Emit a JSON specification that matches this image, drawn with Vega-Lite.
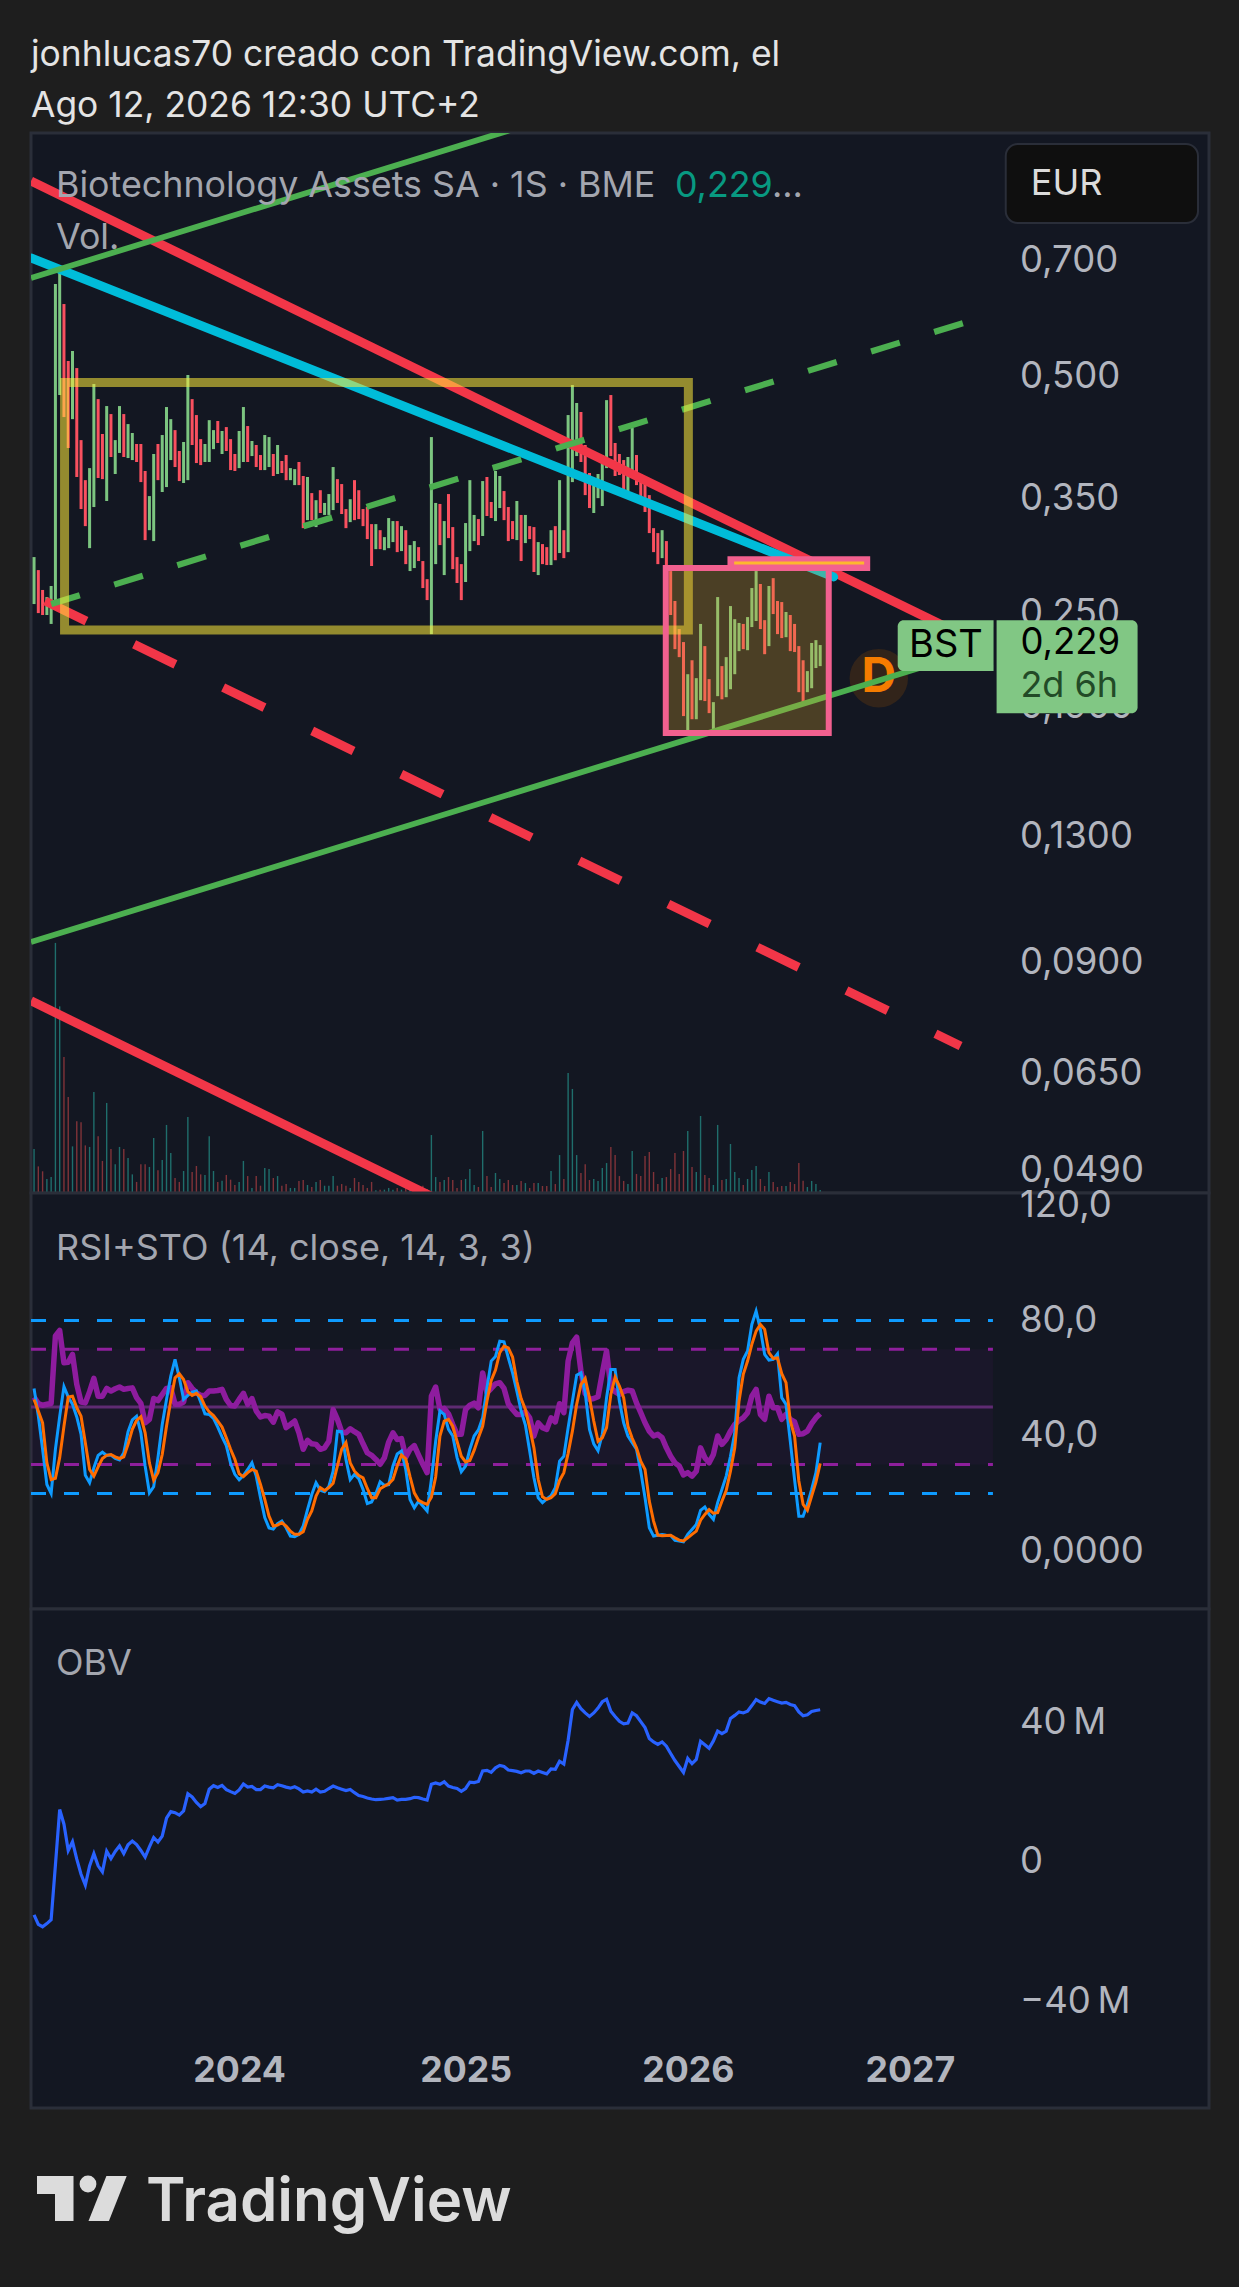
{
"$schema":"https://vega.github.io/schema/vega-lite/v6.json",
"background":"#1e1e1e",
"padding":{"left":26,"right":31,"top":38,"bottom":0},
"title":{"text":["jonhlucas70 creado con TradingView.com, el","Ago 12, 2026 12:30 UTC+2"],"anchor":"start","frame":"group","font":"Inter","fontSize":35.4,"fontWeight":"normal","color":"#e4e4e4","lineHeight":51,"offset":7},
"config":{
"view":{"fill":"#131722","stroke":"#2a2e39","strokeWidth":3},
"axis":{"labelFont":"Inter","labelFontSize":36.5,"labelColor":"#b2b5be","ticks":false,"tickSize":0,"domain":false,"grid":false,"title":null,"labelOverlap":false,"labelBound":false,"labelFlush":false},
"text":{"font":"Inter","align":"left","baseline":"middle"}
},
"datasets":{
"weekly":[
{"date":"2023-01-30","hi":0.2945,"lo":0.2567,"dir":"up","vol":3.14,"rsi":53.4,"k":56.4,"d":52.6,"obv":-15.1},
{"date":"2023-02-06","hi":0.2835,"lo":0.25,"dir":"dn","vol":1.9,"rsi":51.2,"k":46.8,"d":48.6,"obv":-17.8},
{"date":"2023-02-13","hi":0.2675,"lo":0.2486,"dir":"dn","vol":1.55,"rsi":50.6,"k":35.3,"d":44.5,"obv":-18.5},
{"date":"2023-02-20","hi":0.262,"lo":0.2486,"dir":"up","vol":1,"rsi":50.9,"k":23.1,"d":30.6,"obv":-17.6},
{"date":"2023-02-27","hi":0.2706,"lo":0.2422,"dir":"up","vol":1.14,"rsi":51.2,"k":20,"d":24.8,"obv":-16.5},
{"date":"2023-03-06","hi":0.6544,"lo":0.2575,"dir":"up","vol":17.86,"rsi":74.6,"k":35.3,"d":25.2,"obv":-0.9},
{"date":"2023-03-13","hi":0.6798,"lo":0.473,"dir":"up","vol":13.33,"rsi":76.5,"k":46.7,"d":32.4,"obv":15},
{"date":"2023-03-20","hi":0.6172,"lo":0.4435,"dir":"dn","vol":9.71,"rsi":65.3,"k":57,"d":43.3,"obv":10.8},
{"date":"2023-03-27","hi":0.5225,"lo":0.4051,"dir":"dn","vol":6.86,"rsi":65.5,"k":53.4,"d":53.4,"obv":3.3},
{"date":"2023-04-03","hi":0.538,"lo":0.4408,"dir":"up","vol":3.33,"rsi":68.2,"k":50.9,"d":53.7,"obv":5.8},
{"date":"2023-04-10","hi":0.5118,"lo":0.3722,"dir":"dn","vol":5.12,"rsi":57.8,"k":46.5,"d":49.7,"obv":0.8},
{"date":"2023-04-17","hi":0.4146,"lo":0.3389,"dir":"dn","vol":5.05,"rsi":51.7,"k":40.5,"d":46.8,"obv":-3.5},
{"date":"2023-04-24","hi":0.3688,"lo":0.3224,"dir":"dn","vol":3.4,"rsi":51.4,"k":26.3,"d":37.6,"obv":-6.6},
{"date":"2023-05-01","hi":0.382,"lo":0.3023,"dir":"up","vol":3.29,"rsi":55.3,"k":23.7,"d":28.3,"obv":-1.1},
{"date":"2023-05-08","hi":0.4885,"lo":0.3409,"dir":"up","vol":7.21,"rsi":59.9,"k":28.9,"d":26,"obv":2.4},
{"date":"2023-05-15","hi":0.4674,"lo":0.3711,"dir":"dn","vol":4.05,"rsi":53.7,"k":33.2,"d":29.2,"obv":-1.1},
{"date":"2023-05-22","hi":0.4221,"lo":0.3699,"dir":"dn","vol":2.29,"rsi":53.7,"k":34.3,"d":32.1,"obv":-2.8},
{"date":"2023-05-29","hi":0.458,"lo":0.347,"dir":"up","vol":6.43,"rsi":56.4,"k":33.2,"d":33.2,"obv":3.1},
{"date":"2023-06-05","hi":0.4474,"lo":0.3946,"dir":"dn","vol":3.14,"rsi":55.5,"k":33.3,"d":33.5,"obv":1},
{"date":"2023-06-12","hi":0.4146,"lo":0.3755,"dir":"up","vol":2.05,"rsi":56.3,"k":32.1,"d":32.7,"obv":3},
{"date":"2023-06-19","hi":0.458,"lo":0.3993,"dir":"up","vol":3.29,"rsi":56.9,"k":31.6,"d":32.1,"obv":4.6},
{"date":"2023-06-26","hi":0.4474,"lo":0.3946,"dir":"dn","vol":3.14,"rsi":56.1,"k":34.1,"d":32.7,"obv":2.4},
{"date":"2023-07-03","hi":0.4345,"lo":0.3934,"dir":"up","vol":2.5,"rsi":56.4,"k":41.4,"d":37,"obv":4.9},
{"date":"2023-07-10","hi":0.4233,"lo":0.3911,"dir":"up","vol":1.33,"rsi":56.6,"k":45.5,"d":42.2,"obv":6},
{"date":"2023-07-17","hi":0.4099,"lo":0.3889,"dir":"dn","vol":0.79,"rsi":53.2,"k":46.8,"d":45.3,"obv":5},
{"date":"2023-07-24","hi":0.4099,"lo":0.3667,"dir":"dn","vol":2.05,"rsi":51.2,"k":41,"d":46.6,"obv":3.3},
{"date":"2023-07-31","hi":0.3788,"lo":0.3095,"dir":"dn","vol":2.05,"rsi":44.5,"k":29.5,"d":41,"obv":1.4},
{"date":"2023-08-07","hi":0.352,"lo":0.3186,"dir":"up","vol":1.86,"rsi":45.7,"k":20.2,"d":30.6,"obv":4.3},
{"date":"2023-08-14","hi":0.3981,"lo":0.3086,"dir":"up","vol":3.93,"rsi":52.9,"k":22.3,"d":24.6,"obv":7},
{"date":"2023-08-21","hi":0.4099,"lo":0.3688,"dir":"dn","vol":1.62,"rsi":52.2,"k":32.4,"d":27.2,"obv":5.7},
{"date":"2023-08-28","hi":0.4208,"lo":0.3562,"dir":"up","vol":2.36,"rsi":54.3,"k":43.9,"d":33.5,"obv":7.4},
{"date":"2023-09-04","hi":0.4567,"lo":0.3614,"dir":"up","vol":4.86,"rsi":56.4,"k":52.6,"d":43.3,"obv":12.5},
{"date":"2023-09-11","hi":0.4408,"lo":0.3911,"dir":"up","vol":2.86,"rsi":56.6,"k":60.7,"d":52.2,"obv":14.4},
{"date":"2023-09-18","hi":0.4269,"lo":0.3832,"dir":"dn","vol":1.07,"rsi":50.9,"k":66.5,"d":60.1,"obv":14.1},
{"date":"2023-09-25","hi":0.4016,"lo":0.3678,"dir":"dn","vol":0.79,"rsi":50.9,"k":60.1,"d":61.5,"obv":13.4},
{"date":"2023-10-02","hi":0.4123,"lo":0.3657,"dir":"up","vol":1.57,"rsi":51.7,"k":52.6,"d":59.5,"obv":14.6},
{"date":"2023-10-09","hi":0.5015,"lo":0.3688,"dir":"up","vol":5.43,"rsi":58.4,"k":54,"d":55.3,"obv":19.5},
{"date":"2023-10-16","hi":0.4674,"lo":0.4087,"dir":"dn","vol":1.5,"rsi":56.4,"k":55.1,"d":54,"obv":18.6},
{"date":"2023-10-23","hi":0.4461,"lo":0.3877,"dir":"dn","vol":1.93,"rsi":54.9,"k":55.5,"d":54.7,"obv":17},
{"date":"2023-10-30","hi":0.4158,"lo":0.3854,"dir":"dn","vol":1.33,"rsi":54,"k":51.7,"d":53.5,"obv":15.8},
{"date":"2023-11-06","hi":0.4099,"lo":0.3889,"dir":"up","vol":1.29,"rsi":54,"k":47.6,"d":50.3,"obv":16.7},
{"date":"2023-11-13","hi":0.4395,"lo":0.3889,"dir":"up","vol":4.05,"rsi":55.5,"k":47.4,"d":48.3,"obv":20.8},
{"date":"2023-11-20","hi":0.4269,"lo":0.4038,"dir":"up","vol":1.57,"rsi":55.5,"k":46,"d":47,"obv":21.8},
{"date":"2023-11-27","hi":0.4384,"lo":0.4111,"dir":"dn","vol":0.79,"rsi":55.7,"k":43,"d":45.1,"obv":21.3},
{"date":"2023-12-04","hi":0.4258,"lo":0.3981,"dir":"up","vol":0.88,"rsi":56.1,"k":39.6,"d":43,"obv":21.9},
{"date":"2023-12-11","hi":0.4307,"lo":0.4016,"dir":"dn","vol":1.29,"rsi":52.6,"k":36.6,"d":39.3,"obv":20.7},
{"date":"2023-12-18","hi":0.4158,"lo":0.3798,"dir":"dn","vol":0.95,"rsi":50.5,"k":30.4,"d":35.3,"obv":20.1},
{"date":"2023-12-25","hi":0.3981,"lo":0.3788,"dir":"dn","vol":0.57,"rsi":50.3,"k":26.6,"d":31.8,"obv":19.6},
{"date":"2024-01-01","hi":0.4258,"lo":0.382,"dir":"up","vol":0.79,"rsi":52.6,"k":24.7,"d":26.8,"obv":20.6},
{"date":"2024-01-08","hi":0.4567,"lo":0.3889,"dir":"up","vol":2.29,"rsi":54.7,"k":26.2,"d":25.8,"obv":22.3},
{"date":"2024-01-15","hi":0.432,"lo":0.3889,"dir":"dn","vol":1.21,"rsi":50.9,"k":28.3,"d":27.2,"obv":21.4},
{"date":"2024-01-22","hi":0.4135,"lo":0.3957,"dir":"up","vol":0.36,"rsi":52.9,"k":30.6,"d":28.3,"obv":21.6},
{"date":"2024-01-29","hi":0.4087,"lo":0.3832,"dir":"dn","vol":1.21,"rsi":48.6,"k":26,"d":27.7,"obv":20.7},
{"date":"2024-02-05","hi":0.3969,"lo":0.3798,"dir":"dn","vol":0.52,"rsi":46.5,"k":18.5,"d":23.1,"obv":20.7},
{"date":"2024-02-12","hi":0.4208,"lo":0.3798,"dir":"up","vol":1.79,"rsi":47,"k":11.6,"d":17.9,"obv":21.7},
{"date":"2024-02-19","hi":0.4183,"lo":0.3832,"dir":"up","vol":1.71,"rsi":46.8,"k":8,"d":12.1,"obv":21.4},
{"date":"2024-02-26","hi":0.3981,"lo":0.3733,"dir":"dn","vol":1.07,"rsi":44.7,"k":7.6,"d":8.7,"obv":21.2},
{"date":"2024-03-04","hi":0.4087,"lo":0.3755,"dir":"up","vol":1.21,"rsi":48.3,"k":9.5,"d":9,"obv":22.1},
{"date":"2024-03-11","hi":0.39,"lo":0.3766,"dir":"dn","vol":0.52,"rsi":47.5,"k":10.4,"d":9.8,"obv":21.8},
{"date":"2024-03-18","hi":0.3969,"lo":0.3688,"dir":"dn","vol":0.64,"rsi":42.8,"k":8.1,"d":8.7,"obv":21.4},
{"date":"2024-03-25","hi":0.382,"lo":0.3688,"dir":"up","vol":0.36,"rsi":43.9,"k":5.2,"d":6.9,"obv":21.1},
{"date":"2024-04-01","hi":0.3809,"lo":0.3635,"dir":"up","vol":0.36,"rsi":45.1,"k":5,"d":5.8,"obv":21.5},
{"date":"2024-04-08","hi":0.3889,"lo":0.3635,"dir":"dn","vol":0.86,"rsi":41,"k":5.8,"d":5.8,"obv":20.9},
{"date":"2024-04-15","hi":0.3733,"lo":0.3205,"dir":"dn","vol":0.93,"rsi":35.3,"k":8.7,"d":6.7,"obv":20},
{"date":"2024-04-22","hi":0.3722,"lo":0.3281,"dir":"up","vol":0.57,"rsi":38.4,"k":14.4,"d":11,"obv":20.3},
{"date":"2024-04-29","hi":0.3551,"lo":0.3281,"dir":"dn","vol":0.43,"rsi":37.2,"k":19.6,"d":13.9,"obv":20},
{"date":"2024-05-06","hi":0.3478,"lo":0.3215,"dir":"up","vol":0.79,"rsi":37,"k":23.7,"d":19.1,"obv":20.8},
{"date":"2024-05-13","hi":0.3581,"lo":0.335,"dir":"dn","vol":0.93,"rsi":35.3,"k":21.1,"d":22,"obv":20},
{"date":"2024-05-20","hi":0.345,"lo":0.3331,"dir":"up","vol":0.52,"rsi":35.8,"k":20.6,"d":21,"obv":20.2},
{"date":"2024-05-27","hi":0.3541,"lo":0.3331,"dir":"up","vol":0.52,"rsi":38.1,"k":22.4,"d":22,"obv":21},
{"date":"2024-06-03","hi":0.3832,"lo":0.3379,"dir":"up","vol":1.21,"rsi":49.1,"k":27.7,"d":23.5,"obv":21.7},
{"date":"2024-06-10","hi":0.3699,"lo":0.345,"dir":"dn","vol":0.52,"rsi":45.7,"k":41.6,"d":29.5,"obv":21.2},
{"date":"2024-06-17","hi":0.3646,"lo":0.334,"dir":"dn","vol":0.64,"rsi":41.3,"k":41.4,"d":35.3,"obv":20.8},
{"date":"2024-06-24","hi":0.3389,"lo":0.3205,"dir":"dn","vol":0.52,"rsi":41,"k":31.8,"d":37.6,"obv":20.4},
{"date":"2024-07-01","hi":0.3488,"lo":0.3262,"dir":"up","vol":0.36,"rsi":42.4,"k":24.8,"d":30.6,"obv":20.7},
{"date":"2024-07-08","hi":0.3688,"lo":0.3281,"dir":"dn","vol":1.07,"rsi":41.4,"k":26.6,"d":27.7,"obv":19.8},
{"date":"2024-07-15","hi":0.3581,"lo":0.3291,"dir":"dn","vol":0.79,"rsi":40.5,"k":25.1,"d":26.2,"obv":19},
{"date":"2024-07-22","hi":0.3389,"lo":0.3224,"dir":"dn","vol":0.57,"rsi":37.2,"k":21.4,"d":25.4,"obv":18.7},
{"date":"2024-07-29","hi":0.3409,"lo":0.3104,"dir":"dn","vol":0.36,"rsi":34.1,"k":16.5,"d":21.7,"obv":18.3},
{"date":"2024-08-05","hi":0.3243,"lo":0.2869,"dir":"dn","vol":0.79,"rsi":33.2,"k":17,"d":18.5,"obv":18},
{"date":"2024-08-12","hi":0.3243,"lo":0.3014,"dir":"up","vol":0.19,"rsi":31.8,"k":19.9,"d":18.5,"obv":17.8},
{"date":"2024-08-19","hi":0.3186,"lo":0.3014,"dir":"dn","vol":0.24,"rsi":30.1,"k":24,"d":21.6,"obv":17.9},
{"date":"2024-08-26","hi":0.3122,"lo":0.3005,"dir":"up","vol":0.24,"rsi":32.4,"k":22.8,"d":22.5,"obv":18},
{"date":"2024-09-02","hi":0.3301,"lo":0.3023,"dir":"up","vol":0.36,"rsi":37.8,"k":23,"d":23.3,"obv":18.2},
{"date":"2024-09-09","hi":0.3272,"lo":0.3077,"dir":"up","vol":0.24,"rsi":41,"k":29.5,"d":24.8,"obv":18.4},
{"date":"2024-09-16","hi":0.3272,"lo":0.2988,"dir":"dn","vol":0.36,"rsi":38.7,"k":33.7,"d":29.5,"obv":17.7},
{"date":"2024-09-23","hi":0.3224,"lo":0.2997,"dir":"up","vol":0.24,"rsi":39,"k":34.7,"d":33.3,"obv":17.9},
{"date":"2024-09-30","hi":0.3186,"lo":0.2885,"dir":"dn","vol":0.36,"rsi":32.6,"k":28.3,"d":32,"obv":17.9},
{"date":"2024-10-07","hi":0.305,"lo":0.2827,"dir":"up","vol":0.24,"rsi":35.3,"k":17.9,"d":25.8,"obv":18.1},
{"date":"2024-10-14","hi":0.3086,"lo":0.2852,"dir":"up","vol":0.36,"rsi":36.6,"k":15,"d":20.2,"obv":18.5},
{"date":"2024-10-21","hi":0.3032,"lo":0.2911,"dir":"dn","vol":0.29,"rsi":33.3,"k":17.3,"d":17.6,"obv":18.4},
{"date":"2024-10-28","hi":0.2911,"lo":0.269,"dir":"dn","vol":0.52,"rsi":30.1,"k":15.6,"d":16.8,"obv":18},
{"date":"2024-11-04","hi":0.2761,"lo":0.2597,"dir":"dn","vol":0.29,"rsi":27.2,"k":13.9,"d":16.2,"obv":17.7},
{"date":"2024-11-11","hi":0.4183,"lo":0.2351,"dir":"up","vol":4.14,"rsi":53.7,"k":24.8,"d":18.7,"obv":22.2},
{"date":"2024-11-18","hi":0.345,"lo":0.2885,"dir":"up","vol":1.14,"rsi":56.9,"k":38.1,"d":25.7,"obv":22.6},
{"date":"2024-11-25","hi":0.344,"lo":0.305,"dir":"dn","vol":0.79,"rsi":49.2,"k":48.6,"d":39.9,"obv":22.2},
{"date":"2024-12-02","hi":0.3272,"lo":0.2794,"dir":"up","vol":0.93,"rsi":49.5,"k":47.4,"d":45.1,"obv":22.9},
{"date":"2024-12-09","hi":0.3541,"lo":0.3113,"dir":"dn","vol":1.14,"rsi":47.6,"k":42.2,"d":45.7,"obv":21.7},
{"date":"2024-12-16","hi":0.3215,"lo":0.2843,"dir":"dn","vol":0.93,"rsi":43.9,"k":39.9,"d":43.3,"obv":21.3},
{"date":"2024-12-23","hi":0.2945,"lo":0.273,"dir":"dn","vol":0.36,"rsi":40.5,"k":32.4,"d":38.1,"obv":21},
{"date":"2024-12-30","hi":0.2885,"lo":0.2597,"dir":"dn","vol":0.93,"rsi":40.5,"k":27.5,"d":32.9,"obv":20.2},
{"date":"2025-01-06","hi":0.3253,"lo":0.2738,"dir":"up","vol":1,"rsi":49.1,"k":29.5,"d":30.9,"obv":21},
{"date":"2025-01-13","hi":0.3688,"lo":0.2997,"dir":"up","vol":1.71,"rsi":50.6,"k":35.3,"d":31.4,"obv":22.8},
{"date":"2025-01-20","hi":0.3331,"lo":0.3086,"dir":"up","vol":0.57,"rsi":51.3,"k":39.9,"d":34.9,"obv":22.7},
{"date":"2025-01-27","hi":0.3291,"lo":0.305,"dir":"dn","vol":0.43,"rsi":49.7,"k":42,"d":39.3,"obv":23},
{"date":"2025-02-03","hi":0.3678,"lo":0.3132,"dir":"up","vol":4.43,"rsi":61.8,"k":46.2,"d":43.3,"obv":26},
{"date":"2025-02-10","hi":0.3722,"lo":0.3321,"dir":"dn","vol":1.21,"rsi":54.9,"k":56.6,"d":52,"obv":26.2},
{"date":"2025-02-17","hi":0.346,"lo":0.3301,"dir":"dn","vol":0.43,"rsi":56.4,"k":65.9,"d":59.2,"obv":25.6},
{"date":"2025-02-24","hi":0.3788,"lo":0.3272,"dir":"up","vol":1.43,"rsi":58,"k":67.5,"d":62.8,"obv":26.9},
{"date":"2025-03-03","hi":0.3733,"lo":0.3399,"dir":"up","vol":1,"rsi":58.4,"k":72.8,"d":68.8,"obv":27.6},
{"date":"2025-03-10","hi":0.3572,"lo":0.3281,"dir":"dn","vol":0.71,"rsi":56.4,"k":72.6,"d":71.1,"obv":27.3},
{"date":"2025-03-17","hi":0.3409,"lo":0.3086,"dir":"dn","vol":0.93,"rsi":51.1,"k":67,"d":70.5,"obv":26.3},
{"date":"2025-03-24","hi":0.3272,"lo":0.3104,"dir":"dn","vol":0.57,"rsi":49.1,"k":61.8,"d":67.3,"obv":26.1},
{"date":"2025-03-31","hi":0.347,"lo":0.3095,"dir":"up","vol":0.57,"rsi":47.4,"k":55.5,"d":58.9,"obv":25.9},
{"date":"2025-04-07","hi":0.3331,"lo":0.2911,"dir":"dn","vol":0.86,"rsi":47.4,"k":48.6,"d":52.9,"obv":25.5},
{"date":"2025-04-14","hi":0.3331,"lo":0.3068,"dir":"up","vol":0.71,"rsi":48.3,"k":43.7,"d":49.1,"obv":26},
{"date":"2025-04-21","hi":0.3224,"lo":0.3104,"dir":"dn","vol":0.36,"rsi":46.2,"k":34.7,"d":42.8,"obv":26},
{"date":"2025-04-28","hi":0.3215,"lo":0.2819,"dir":"dn","vol":0.71,"rsi":39.9,"k":25.4,"d":35.8,"obv":25.3},
{"date":"2025-05-05","hi":0.3077,"lo":0.2794,"dir":"up","vol":0.71,"rsi":44.5,"k":18.5,"d":24.8,"obv":26},
{"date":"2025-05-12","hi":0.3059,"lo":0.2885,"dir":"dn","vol":0.5,"rsi":42.8,"k":16.8,"d":18.8,"obv":25.6},
{"date":"2025-05-19","hi":0.3032,"lo":0.2877,"dir":"dn","vol":0.5,"rsi":42.2,"k":18.1,"d":17.9,"obv":25.2},
{"date":"2025-05-26","hi":0.3186,"lo":0.2877,"dir":"up","vol":1.57,"rsi":46.2,"k":19.2,"d":18.5,"obv":26.6},
{"date":"2025-06-02","hi":0.3224,"lo":0.2918,"dir":"dn","vol":0.64,"rsi":44.8,"k":22,"d":19.9,"obv":26.5},
{"date":"2025-06-09","hi":0.3688,"lo":0.298,"dir":"up","vol":2.71,"rsi":51.1,"k":31.2,"d":24.5,"obv":28.8},
{"date":"2025-06-16","hi":0.3186,"lo":0.2936,"dir":"dn","vol":1,"rsi":48,"k":32.9,"d":27.2,"obv":28},
{"date":"2025-06-23","hi":0.4461,"lo":0.2988,"dir":"up","vol":8.57,"rsi":65.9,"k":42.8,"d":33.9,"obv":34.8},
{"date":"2025-06-30","hi":0.487,"lo":0.3667,"dir":"up","vol":7.43,"rsi":72.2,"k":52,"d":41.6,"obv":43.6},
{"date":"2025-07-07","hi":0.4621,"lo":0.3957,"dir":"up","vol":2.71,"rsi":74.2,"k":61,"d":50.9,"obv":45.6},
{"date":"2025-07-14","hi":0.4501,"lo":0.3889,"dir":"dn","vol":1.43,"rsi":62.4,"k":61.8,"d":57.8,"obv":43.8},
{"date":"2025-07-21","hi":0.4087,"lo":0.353,"dir":"dn","vol":2.05,"rsi":54.6,"k":54.9,"d":59.9,"obv":42.6},
{"date":"2025-07-28","hi":0.3766,"lo":0.3399,"dir":"dn","vol":0.93,"rsi":52.6,"k":42.2,"d":53.2,"obv":41.6},
{"date":"2025-08-04","hi":0.3688,"lo":0.335,"dir":"up","vol":1,"rsi":52.9,"k":37.2,"d":45.1,"obv":42.6},
{"date":"2025-08-11","hi":0.3755,"lo":0.3499,"dir":"up","vol":0.86,"rsi":53.5,"k":34.8,"d":38.1,"obv":44},
{"date":"2025-08-18","hi":0.3969,"lo":0.3419,"dir":"up","vol":1.79,"rsi":61.8,"k":40.5,"d":39.3,"obv":45.8},
{"date":"2025-08-25","hi":0.466,"lo":0.382,"dir":"up","vol":2.14,"rsi":69.4,"k":53.2,"d":42.8,"obv":46.5},
{"date":"2025-09-01","hi":0.473,"lo":0.3957,"dir":"dn","vol":3.29,"rsi":56.6,"k":63,"d":54.3,"obv":43.1},
{"date":"2025-09-08","hi":0.4111,"lo":0.3733,"dir":"dn","vol":2.71,"rsi":55.3,"k":63,"d":60.3,"obv":41.6},
{"date":"2025-09-15","hi":0.3981,"lo":0.3744,"dir":"dn","vol":1.21,"rsi":54.3,"k":52,"d":57.2,"obv":40.2},
{"date":"2025-09-22","hi":0.3911,"lo":0.3562,"dir":"dn","vol":0.86,"rsi":55.3,"k":44.5,"d":53.2,"obv":39.5},
{"date":"2025-09-29","hi":0.3946,"lo":0.3572,"dir":"up","vol":0.64,"rsi":55.8,"k":39.9,"d":43.3,"obv":39.7},
{"date":"2025-10-06","hi":0.4295,"lo":0.3798,"dir":"up","vol":3,"rsi":55.5,"k":37.6,"d":39.1,"obv":42.6},
{"date":"2025-10-13","hi":0.3969,"lo":0.3635,"dir":"dn","vol":1.36,"rsi":51.4,"k":35.3,"d":35.8,"obv":41.8},
{"date":"2025-10-20","hi":0.3755,"lo":0.3488,"dir":"dn","vol":1.21,"rsi":48,"k":27.7,"d":31.2,"obv":40.1},
{"date":"2025-10-27","hi":0.3688,"lo":0.336,"dir":"dn","vol":2.64,"rsi":44.5,"k":18.5,"d":28.3,"obv":38.4},
{"date":"2025-11-03","hi":0.353,"lo":0.3159,"dir":"dn","vol":2.93,"rsi":41.6,"k":8.1,"d":17.3,"obv":35.3},
{"date":"2025-11-10","hi":0.3205,"lo":0.2988,"dir":"dn","vol":1.5,"rsi":39.9,"k":5.2,"d":10.4,"obv":34.3},
{"date":"2025-11-17","hi":0.3159,"lo":0.2885,"dir":"dn","vol":0.64,"rsi":40.5,"k":5.5,"d":5.5,"obv":33.6},
{"date":"2025-11-24","hi":0.3186,"lo":0.2936,"dir":"up","vol":1.07,"rsi":39.3,"k":5.7,"d":5.3,"obv":34.3},
{"date":"2025-12-01","hi":0.3086,"lo":0.2827,"dir":"dn","vol":1.14,"rsi":35.8,"k":5.5,"d":5.4,"obv":33.1},
{"date":"2025-12-08","hi":0.2827,"lo":0.2486,"dir":"dn","vol":1.71,"rsi":32.9,"k":5.4,"d":5.5,"obv":31},
{"date":"2025-12-15","hi":0.259,"lo":0.225,"dir":"dn","vol":2.86,"rsi":30.6,"k":3.7,"d":4.6,"obv":29},
{"date":"2025-12-22","hi":0.2386,"lo":0.2198,"dir":"dn","vol":1.36,"rsi":29.5,"k":3.5,"d":3.8,"obv":27.3},
{"date":"2025-12-29","hi":0.2297,"lo":0.185,"dir":"dn","vol":3,"rsi":26.4,"k":3.2,"d":3.5,"obv":25.6},
{"date":"2026-01-05","hi":0.2091,"lo":0.1775,"dir":"up","vol":4.43,"rsi":27.2,"k":5.8,"d":4.6,"obv":29.6},
{"date":"2026-01-12","hi":0.2178,"lo":0.1833,"dir":"dn","vol":1.86,"rsi":26,"k":7.5,"d":5.8,"obv":28.1},
{"date":"2026-01-19","hi":0.2067,"lo":0.1833,"dir":"up","vol":1.5,"rsi":27.7,"k":9.2,"d":6.9,"obv":29.3},
{"date":"2026-01-26","hi":0.2422,"lo":0.1938,"dir":"up","vol":5.5,"rsi":35.8,"k":14.1,"d":10.7,"obv":34.5},
{"date":"2026-02-02","hi":0.227,"lo":0.1933,"dir":"dn","vol":1.29,"rsi":32.4,"k":15.3,"d":12.7,"obv":33.5},
{"date":"2026-02-09","hi":0.2061,"lo":0.1866,"dir":"dn","vol":1.07,"rsi":30.6,"k":12.7,"d":14.4,"obv":32.5},
{"date":"2026-02-16","hi":0.1927,"lo":0.1775,"dir":"up","vol":0.57,"rsi":33.5,"k":11,"d":13.1,"obv":34.6},
{"date":"2026-02-23","hi":0.262,"lo":0.1961,"dir":"up","vol":4.86,"rsi":39.9,"k":16.8,"d":13.3,"obv":37.4},
{"date":"2026-03-02","hi":0.2141,"lo":0.1943,"dir":"dn","vol":0.93,"rsi":37,"k":21.4,"d":17.3,"obv":36.7},
{"date":"2026-03-09","hi":0.2198,"lo":0.1955,"dir":"up","vol":1,"rsi":38.7,"k":26,"d":21,"obv":37.4},
{"date":"2026-03-16","hi":0.2552,"lo":0.2001,"dir":"up","vol":3.5,"rsi":41.6,"k":32.9,"d":27.7,"obv":41},
{"date":"2026-03-23","hi":0.2456,"lo":0.2091,"dir":"up","vol":1.5,"rsi":43.9,"k":41,"d":35.8,"obv":41.9},
{"date":"2026-03-30","hi":0.2429,"lo":0.2237,"dir":"up","vol":1.07,"rsi":45.3,"k":60.1,"d":52,"obv":42.9},
{"date":"2026-04-06","hi":0.2422,"lo":0.225,"dir":"dn","vol":0.57,"rsi":46.2,"k":66.5,"d":61.3,"obv":42.6},
{"date":"2026-04-13","hi":0.2471,"lo":0.2243,"dir":"up","vol":1,"rsi":48,"k":69.4,"d":65.9,"obv":43.1},
{"date":"2026-04-20","hi":0.269,"lo":0.24,"dir":"up","vol":1.64,"rsi":53.7,"k":78.6,"d":71.7,"obv":44.7},
{"date":"2026-04-27","hi":0.2827,"lo":0.2443,"dir":"up","vol":1.93,"rsi":56.1,"k":83.2,"d":76.3,"obv":46.4},
{"date":"2026-05-04","hi":0.2722,"lo":0.2386,"dir":"dn","vol":1,"rsi":47.4,"k":76.9,"d":78.6,"obv":45.7},
{"date":"2026-05-11","hi":0.2449,"lo":0.2217,"dir":"dn","vol":0.5,"rsi":45.7,"k":68.2,"d":76.9,"obv":45.3},
{"date":"2026-05-18","hi":0.2706,"lo":0.227,"dir":"up","vol":1.5,"rsi":53.7,"k":66.2,"d":68.8,"obv":46.7},
{"date":"2026-05-25","hi":0.2769,"lo":0.2493,"dir":"dn","vol":0.79,"rsi":49.7,"k":66.5,"d":66.8,"obv":46.2},
{"date":"2026-06-01","hi":0.259,"lo":0.2351,"dir":"dn","vol":0.43,"rsi":49.7,"k":68.4,"d":67,"obv":45.8},
{"date":"2026-06-08","hi":0.2582,"lo":0.2324,"dir":"dn","vol":0.5,"rsi":45.7,"k":53.2,"d":61.5,"obv":45.4},
{"date":"2026-06-15","hi":0.2508,"lo":0.233,"dir":"up","vol":0.5,"rsi":47.4,"k":50.9,"d":58.4,"obv":45.6},
{"date":"2026-06-22","hi":0.2486,"lo":0.2237,"dir":"dn","vol":0.79,"rsi":45.7,"k":38.1,"d":45.1,"obv":45},
{"date":"2026-06-29","hi":0.2422,"lo":0.2231,"dir":"dn","vol":0.64,"rsi":44.8,"k":24.8,"d":39.9,"obv":44.7},
{"date":"2026-07-06","hi":0.227,"lo":0.1984,"dir":"dn","vol":2.14,"rsi":40.5,"k":12.1,"d":24.3,"obv":42.9},
{"date":"2026-07-13","hi":0.2178,"lo":0.1927,"dir":"dn","vol":0.88,"rsi":40.7,"k":12.1,"d":16.2,"obv":41.8},
{"date":"2026-07-20","hi":0.211,"lo":0.1984,"dir":"up","vol":0.43,"rsi":41.6,"k":16.2,"d":14.2,"obv":42.1},
{"date":"2026-07-27","hi":0.2291,"lo":0.2007,"dir":"up","vol":0.86,"rsi":44.2,"k":21.4,"d":19.1,"obv":43},
{"date":"2026-08-03","hi":0.231,"lo":0.2129,"dir":"up","vol":0.64,"rsi":46.2,"k":27.2,"d":23.9,"obv":43.3},
{"date":"2026-08-10","hi":0.2277,"lo":0.2141,"dir":"up","vol":0.21,"rsi":47.6,"k":37.6,"d":30.4,"obv":43.5}
],
"trends":[
{"line":"red_top","date":"2023-01-25","price":0.8845},
{"line":"red_top","date":"2027-03-28","price":0.2351},
{"line":"red_mid","date":"2023-02-17","price":0.259},
{"line":"red_mid","date":"2027-03-28","price":0.0705},
{"line":"red_low","date":"2023-01-25","price":0.08045},
{"line":"red_low","date":"2024-11-27","price":0.0448},
{"line":"cyan","date":"2023-01-25","price":0.7062},
{"line":"cyan","date":"2026-09-01","price":0.2779},
{"line":"green_top","date":"2023-01-25","price":0.666},
{"line":"green_top","date":"2025-08-16","price":1.1142},
{"line":"green_mid","date":"2023-02-27","price":0.2567},
{"line":"green_mid","date":"2027-04-07","price":0.5856},
{"line":"green_low","date":"2023-01-25","price":0.09555},
{"line":"green_low","date":"2027-02-15","price":0.2161}
]
},
"bounds":"flush",
"spacing":0,
"vconcat":[
{
"width":1178,"height":1060,
"encoding":{"x":{"field":"date","type":"temporal","scale":{"type":"utc","domain":["2023-01-25","2028-05-08"]},"axis":null}},
"resolve":{"scale":{"y":"independent","color":"independent"}},
"layer":[
{"data":{"name":"weekly"},"mark":{"type":"rule","strokeWidth":1.4},
"encoding":{"y":{"field":"vol","type":"quantitative","scale":{"domain":[0,75.7],"nice":false},"axis":null},"y2":{"datum":0},
"color":{"field":"dir","type":"nominal","legend":null,"scale":{"domain":["up","dn"],"range":["#1f6e6c","#803339"]}}}},
{"encoding":{"y":{"field":"price","type":"quantitative","scale":{"type":"log","domain":[0.04587,1.0177],"nice":false},
"axis":{"orient":"right","values":[0.7,0.5,0.35,0.25,0.19,0.13,0.09,0.065,0.049],"labelAlign":"left","labelPadding":-189.5,"labelExpr":"replace(format(datum.value, datum.value < 0.2 ? '.4f' : '.3f'), '.', ',')"}}},
"layer":[
{"data":{"name":"weekly"},"mark":{"type":"rule","strokeWidth":3},
"encoding":{"y":{"field":"hi","type":"quantitative","scale":{"type":"log","domain":[0.04587,1.0177],"nice":false}},"y2":{"field":"lo"},
"color":{"field":"dir","type":"nominal","legend":null,"scale":{"domain":["up","dn"],"range":["#7cc580","#f9505f"]}}}},
{"data":{"values":[{"date":"2026-11-14","price":0.2067,"label":"D"}]},"mark":{"type":"point","filled":true,"shape":"circle","size":3421,"color":"#32241a","opacity":1}},
{"data":{"values":[{"date":"2026-11-14","price":0.2067,"label":"D"}]},"mark":{"type":"text","align":"center","fontSize":48,"fontWeight":"bold","color":"#f57c00"},"encoding":{"text":{"field":"label"}}},
{"data":{"name":"trends"},"transform":[{"filter":"datum.line == 'red_top' || datum.line == 'red_low'"}],"mark":{"type":"line","color":"#f23648","strokeWidth":9,"clip":true},"encoding":{"detail":{"field":"line"}}},
{"data":{"name":"trends"},"transform":[{"filter":"datum.line == 'red_mid'"}],"mark":{"type":"line","color":"#f23648","strokeWidth":9,"strokeDash":[46,53],"clip":true}},
{"data":{"name":"trends"},"transform":[{"filter":"datum.line == 'cyan'"}],"mark":{"type":"line","color":"#00bcd9","strokeWidth":9,"strokeCap":"round","clip":true}},
{"data":{"name":"trends"},"transform":[{"filter":"datum.line == 'green_top' || datum.line == 'green_low'"}],"mark":{"type":"line","color":"#4caf50","strokeWidth":5.8,"clip":true},"encoding":{"detail":{"field":"line"}}},
{"data":{"name":"trends"},"transform":[{"filter":"datum.line == 'green_mid'"}],"mark":{"type":"line","color":"#4caf50","strokeWidth":6.2,"strokeDash":[30,36],"clip":true}},
{"data":{"values":[{"date":"2023-03-21","date2":"2026-01-06","price":0.4906,"price2":0.2379}],"format":{"parse":{"date":"date","date2":"date"}}},"mark":{"type":"rect","fillOpacity":0,"stroke":"#ffeb3b","strokeOpacity":0.55,"strokeWidth":9},"encoding":{"x2":{"field":"date2"},"y2":{"field":"price2"}}},
{"data":{"values":[{"date":"2025-11-30","date2":"2026-08-24","price":0.2852,"price2":0.1761}],"format":{"parse":{"date":"date","date2":"date"}}},"mark":{"type":"rect","fill":"#e0a830","fillOpacity":0.28,"stroke":"#f2608f","strokeWidth":6},"encoding":{"x2":{"field":"date2"},"y2":{"field":"price2"}}},
{"data":{"values":[{"date":"2026-03-16","date2":"2026-10-26","price":0.2927,"price2":0.2852}],"format":{"parse":{"date":"date","date2":"date"}}},"mark":{"type":"rect","fill":"#f2608f","stroke":"#f2608f","strokeWidth":6},"encoding":{"x2":{"field":"date2"},"y2":{"field":"price2"}}},
{"data":{"values":[{"date":"2026-03-22","date2":"2026-10-21","price":0.2894}],"format":{"parse":{"date":"date","date2":"date"}}},"mark":{"type":"rule","color":"#fdb72d","strokeWidth":3},"encoding":{"x2":{"field":"date2"}}},
{"data":{"values":[{"date":"2026-12-15","date2":"2027-05-21","price":0.2449,"price2":0.211}],"format":{"parse":{"date":"date","date2":"date"}}},"mark":{"type":"rect","fill":"#81c784","cornerRadiusTopLeft":6,"cornerRadiusBottomLeft":6},"encoding":{"x2":{"field":"date2"},"y2":{"field":"price2"}}},
{"data":{"values":[{"date":"2027-05-26","date2":"2028-01-12","price":0.2449,"price2":0.1866}],"format":{"parse":{"date":"date","date2":"date"}}},"mark":{"type":"rect","fill":"#81c784","cornerRadiusTopRight":6,"cornerRadiusBottomRight":6},"encoding":{"x2":{"field":"date2"},"y2":{"field":"price2"}}},
{"data":{"values":[{"date":"2027-03-04","price":0.227,"label":"BST"}]},"mark":{"type":"text","align":"center","fontSize":38,"color":"#000000"},"encoding":{"text":{"field":"label"}}},
{"data":{"values":[{"date":"2027-07-04","price":0.2291,"label":"0,229"}]},"mark":{"type":"text","fontSize":36.5,"color":"#000000"},"encoding":{"text":{"field":"label"}}},
{"data":{"values":[{"date":"2027-07-04","price":0.2019,"label":"2d 6h"}]},"mark":{"type":"text","fontSize":36,"color":"#224a27"},"encoding":{"text":{"field":"label"}}},
{"data":{"values":[{"date":"2027-06-10","date2":"2028-04-20","price":0.9855,"price2":0.7823}],"format":{"parse":{"date":"date","date2":"date"}}},"mark":{"type":"rect","fill":"#0f0f0f","stroke":"#2a2e39","strokeWidth":2,"cornerRadius":12},"encoding":{"x2":{"field":"date2"},"y2":{"field":"price2"}}},
{"data":{"values":[{"date":"2027-07-21","price":0.8768,"label":"EUR"}]},"mark":{"type":"text","fontSize":36,"color":"#dbdbdb"},"encoding":{"text":{"field":"label"}}},
{"data":{"values":[{"date":"2023-03-07","price":0.8716,"label":"Biotechnology Assets SA · 1S · BME"},{"date":"2023-03-07","price":0.7487,"label":"Vol."},{"date":"2026-05-23","price":0.8716,"label":"..."}]},"mark":{"type":"text","fontSize":35.8,"color":"#a3a6af"},"encoding":{"text":{"field":"label"}}},
{"data":{"values":[{"date":"2025-12-15","price":0.8716,"label":"0,229"}]},"mark":{"type":"text","fontSize":35.8,"color":"#089981"},"encoding":{"text":{"field":"label"}}}
]}
]},
{
"width":1178,"height":416,
"encoding":{"x":{"field":"date","type":"temporal","scale":{"type":"utc","domain":["2023-01-25","2028-05-08"]},"axis":null}},
"layer":[
{"data":{"values":[{"date":"2023-01-25","date2":"2027-05-20","low":30,"high":70}],"format":{"parse":{"date":"date","date2":"date"}}},"mark":{"type":"rect","fill":"#9c27b0","fillOpacity":0.06},
"encoding":{"x2":{"field":"date2"},"y":{"field":"low","type":"quantitative","scale":{"domain":[-20.1,124.2],"nice":false},
"axis":{"orient":"right","values":[0,40,80,120],"labelAlign":"left","labelPadding":-189.5,"labelExpr":"datum.value == 0 ? '0,0000' : datum.value + ',0'"}},"y2":{"field":"high"}}},
{"data":{"values":[{"date":"2023-01-25","date2":"2027-05-20","level":50}],"format":{"parse":{"date":"date","date2":"date"}}},"mark":{"type":"rule","color":"#5f2b72","strokeWidth":3},"encoding":{"x2":{"field":"date2"},"y":{"field":"level","type":"quantitative"}}},
{"data":{"values":[{"date":"2023-01-25","date2":"2027-05-20","level":70},{"date":"2023-01-25","date2":"2027-05-20","level":30}],"format":{"parse":{"date":"date","date2":"date"}}},"mark":{"type":"rule","color":"#8e1f9c","strokeWidth":3,"strokeDash":[15,18]},"encoding":{"x2":{"field":"date2"},"y":{"field":"level","type":"quantitative"}}},
{"data":{"values":[{"date":"2023-01-25","date2":"2027-05-20","level":80},{"date":"2023-01-25","date2":"2027-05-20","level":20}],"format":{"parse":{"date":"date","date2":"date"}}},"mark":{"type":"rule","color":"#0e9bff","strokeWidth":3,"strokeDash":[15,18]},"encoding":{"x2":{"field":"date2"},"y":{"field":"level","type":"quantitative"}}},
{"data":{"name":"weekly"},"mark":{"type":"line","color":"#8e1c9e","strokeWidth":5.5,"strokeJoin":"round"},"encoding":{"y":{"field":"rsi","type":"quantitative"}}},
{"data":{"name":"weekly"},"mark":{"type":"line","color":"#0e9bff","strokeWidth":3},"encoding":{"y":{"field":"k","type":"quantitative"}}},
{"data":{"name":"weekly"},"mark":{"type":"line","color":"#ff6d00","strokeWidth":3},"encoding":{"y":{"field":"d","type":"quantitative"}}},
{"data":{"values":[{"date":"2023-03-07","value":104.8,"label":"RSI+STO (14, close, 14, 3, 3)"}]},"mark":{"type":"text","fontSize":36,"color":"#a3a6af"},"encoding":{"y":{"field":"value","type":"quantitative"},"text":{"field":"label"}}}
]},
{
"width":1178,"height":499,
"encoding":{"x":{"field":"date","type":"temporal","scale":{"type":"utc","domain":["2023-01-25","2028-05-08"]},
"axis":{"orient":"bottom","values":["2024-01-01","2025-01-06","2026-01-05","2027-01-04"],"format":"%Y","labelPadding":-38,"labelBaseline":"middle","labelFontWeight":"bold","labelFontSize":35.7,"labelAlign":"center"}}},
"layer":[
{"data":{"name":"weekly"},"mark":{"type":"line","color":"#2962ff","strokeWidth":3.2},"encoding":{"y":{"field":"obv","type":"quantitative","scale":{"domain":[-70.3,72.3],"nice":false},
"axis":{"orient":"right","values":[-40,0,40],"labelAlign":"left","labelPadding":-189.5,"labelExpr":"datum.value == 0 ? '0' : (datum.value < 0 ? '\u221240' : '40') + '\u2009M'"}}}},
{"data":{"values":[{"date":"2023-03-07","value":56.6,"label":"OBV"}]},"mark":{"type":"text","fontSize":36,"color":"#a3a6af"},"encoding":{"y":{"field":"value","type":"quantitative"},"text":{"field":"label"}}}
]},
{
"width":1178,"height":182,
"view":{"fill":null,"stroke":null},
"layer":[
{"data":{"values":[{"a":0,"a2":36.5,"b":26.9,"b2":45},{"a":18,"a2":36.5,"b":0,"b2":27}]},"mark":{"type":"rect","fill":"#dcdcdc"},
"encoding":{"x":{"field":"a","type":"quantitative","scale":{"domain":[-6,1172],"nice":false,"zero":false},"axis":null},"x2":{"field":"a2"},"y":{"field":"b","type":"quantitative","scale":{"domain":[-69,113],"nice":false,"zero":false},"axis":null},"y2":{"field":"b2"}}},
{"data":{"values":[{"a":51,"b":37}]},"mark":{"type":"point","filled":true,"shape":"circle","size":283,"color":"#dcdcdc","opacity":1},"encoding":{"x":{"field":"a","type":"quantitative"},"y":{"field":"b","type":"quantitative"}}},
{"data":{"values":[{"a":51.5,"a2":71.9,"b":0},{"a":69.4,"a2":89.7,"b":45}]},"mark":{"type":"area","orient":"horizontal","color":"#dcdcdc"},"encoding":{"x":{"field":"a","type":"quantitative"},"x2":{"field":"a2"},"y":{"field":"b","type":"quantitative"}}},
{"data":{"values":[{"a":109,"b":0,"label":"TradingView"}]},"mark":{"type":"text","baseline":"alphabetic","fontSize":60,"fontWeight":600,"color":"#dcdcdc"},"encoding":{"x":{"field":"a","type":"quantitative"},"y":{"field":"b","type":"quantitative"},"text":{"field":"label"}}}
]}
]}
